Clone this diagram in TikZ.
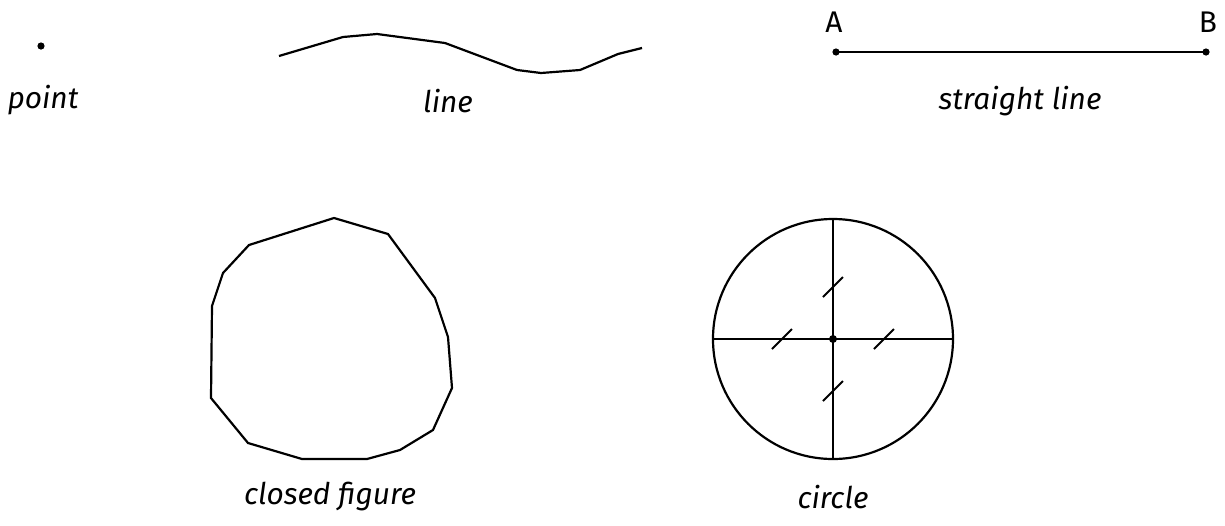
\documentclass[tikz,border=0pt]{standalone}
\usepackage{fontspec}
\setmainfont{Fira Sans}
\usepackage{tikz}
\usetikzlibrary{calc}

\begin{document}
\begin{tikzpicture}[x=0.02cm, y=-0.02cm, line width=1.25pt,
    lbl/.style={font=\fontsize{17}{20}\selectfont\itshape},
    pnt/.style={font=\fontsize{17}{20}\selectfont}]
    \useasboundingbox (0,0) rectangle (1225,525);
    % point
    \coordinate (P) at (41,46);
    \fill (P) circle (3.6);
    \node[lbl] (point) at (43,100) {point};
    % line
    \draw (279,56) -- (343,37) -- (377,34) -- (445,43) -- (517,70) -- (541,73) -- (580,70) -- (618,54) -- (642,48);
    \node[lbl] (line) at (448,101) {line};
    % straight line
    \coordinate (A) at (836,52);
    \coordinate (B) at (1206,52);
    \draw (A) -- (B);
    \fill (A) circle (3.6);
    \fill (B) circle (3.6);
    \node[pnt] (labA) at (834,22) {A};
    \node[pnt] (labB) at (1208,22) {B};
    \node[lbl] (straight) at (1020,101) {straight line};
    % closed figure
    \draw (334,218) -- (388,234) -- (435,298) -- (448,337) -- (452,388) -- (433,430) -- (400,450)
        -- (367,459) -- (302,459) -- (248,443) -- (211,398) -- (212,306) -- (223,273) -- (249,245) -- cycle;
    \node[lbl] (closed) at (330,497) {closed figure};
    % circle
    \coordinate (O) at (833,339);
    \draw (O) circle (120);
    \draw (713,339) -- (953,339);
    \draw (833,219) -- (833,459);
    \fill (O) circle (4);
    \foreach \dx/\dy in {0/-52, 0/52, -51/0, 51/0}
        \draw[line width=1.1pt] ($(O)+(\dx,\dy)+(-10,10)$) -- ($(O)+(\dx,\dy)+(10,-10)$);
    \node[lbl] (circ) at (833,497) {circle};
\end{tikzpicture}
\end{document}
